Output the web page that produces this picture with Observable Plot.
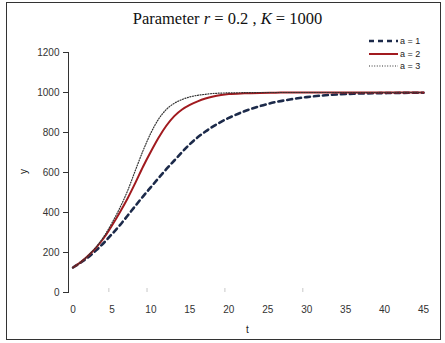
<!DOCTYPE html>
<html>
<head>
<meta charset="utf-8">
<script src="https://cdn.jsdelivr.net/npm/d3@7"></script>
<script src="https://cdn.jsdelivr.net/npm/@observablehq/plot@0.6"></script>
<style>
  html, body { margin: 0; padding: 0; background: #fff; }
  #page { position: relative; width: 445px; height: 343px; overflow: hidden; background: #fff; }
  #frame { position: absolute; left: 6px; top: 2px; width: 435px; height: 338px; border: 1px solid #333; box-sizing: border-box; }
  #title { position: absolute; left: 0; width: 455px; top: 9px; text-align: center; font-family: "Liberation Serif", "Times New Roman", serif; font-size: 16.5px; color: #111; }
  #chart { position: absolute; left: 0; top: 0; }
  .axlab { position: absolute; font-family: "Liberation Sans", Arial, sans-serif; font-size: 10px; color: #222; }
  #legend { position: absolute; left: 369px; top: 35px; font-family: "Liberation Sans", Arial, sans-serif; font-size: 9px; color: #222; }
  #legend .row { height: 12.5px; display: flex; align-items: center; }
  #legend svg { margin-right: 2px; }
</style>
</head>
<body>
<div id="page">
  <div id="frame"></div>
  <div id="chart"></div>
  <div id="title">Parameter <i>r</i> = 0.2 , <i>K</i> = 1000</div>
  <div class="axlab" style="left:246px; top:324px;">t</div>
  <div class="axlab" style="left:21px; top:166px; transform: rotate(-90deg);">y</div>
  <div id="legend"></div>
</div>
<script>
// ---- data ----
const seriesNames = ["a = 1", "a = 2", "a = 3"];
const tValues = [0, 1, 2, 3, 4, 5, 6, 7, 8, 9, 10, 11, 12, 13, 14, 15, 16, 17, 18, 19, 20, 22, 24, 26, 28, 30, 33, 36, 40, 45];
const yA1 = [125, 150, 178, 212, 250, 292, 336, 384, 433, 481, 527, 573, 618, 660, 702, 742, 776, 805, 831, 853, 873, 906, 932, 952, 966, 977, 988, 994, 997, 999];
const yA2 = [125, 152, 186, 226, 275, 335, 400, 470, 548, 630, 705, 775, 835, 882, 915, 938, 956, 970, 980, 987, 992, 996, 998, 999, 1000, 1000, 1000, 1000, 1000, 1000];
const yA3 = [125, 152, 187, 229, 282, 348, 422, 508, 610, 710, 798, 868, 916, 946, 965, 978, 986, 991, 995, 997, 998, 999, 1000, 1000, 1000, 1000, 1000, 1000, 1000, 1000];
const xTickLabels = [0, 5, 10, 15, 20, 25, 30, 35, 40, 45];
const yTickLabels = [0, 200, 400, 600, 800, 1000, 1200];
const xFaintTicks = [4.6, 9.5, 19.5, 29.5];

const seriesValues = [yA1, yA2, yA3];
const rows = seriesValues.map((vals, k) => tValues.map((t, i) => ({ t, y: vals[i], s: seriesNames[k] })));

const styles = [
  { stroke: "#1c2a4a", strokeWidth: 2.6, strokeDasharray: "5,4" },
  { stroke: "#a11a1f", strokeWidth: 2, strokeDasharray: null },
  { stroke: "#333333", strokeWidth: 1.2, strokeDasharray: "1,1.6" }
];

const chart = Plot.plot({
  width: 445,
  height: 343,
  marginLeft: 68,
  marginRight: 20,
  marginTop: 52,
  marginBottom: 51,
  style: { background: "transparent", color: "#333", fontFamily: "Liberation Sans, Arial, sans-serif", fontSize: "10px" },
  x: { domain: [-0.58, 45.25], ticks: xTickLabels, tickSize: 0, tickPadding: 13, label: null },
  y: { domain: [0, 1200], ticks: yTickLabels, tickSize: 5, tickPadding: 4, tickFormat: d => String(d), label: null, line: true },
  marks: [
    Plot.ruleX(xFaintTicks, { y1: 0, y2: 20, stroke: "#c8c8c8" }),
    ...rows.map((r, k) => Plot.line(r, {
      x: "t", y: "y", curve: "monotone-x",
      stroke: styles[k].stroke, strokeWidth: styles[k].strokeWidth,
      strokeDasharray: styles[k].strokeDasharray
    }))
  ]
});
document.getElementById("chart").appendChild(chart);

// legend
const legend = document.getElementById("legend");
seriesNames.forEach((name, k) => {
  const row = document.createElement("div");
  row.className = "row";
  const st = styles[k];
  row.innerHTML = `<svg width="29" height="6"><line x1="0" x2="29" y1="3" y2="3" stroke="${st.stroke}" stroke-width="${st.strokeWidth}" ${st.strokeDasharray ? `stroke-dasharray="${st.strokeDasharray}"` : ""}/></svg><span>${name}</span>`;
  legend.appendChild(row);
});
</script>
</body>
</html>
